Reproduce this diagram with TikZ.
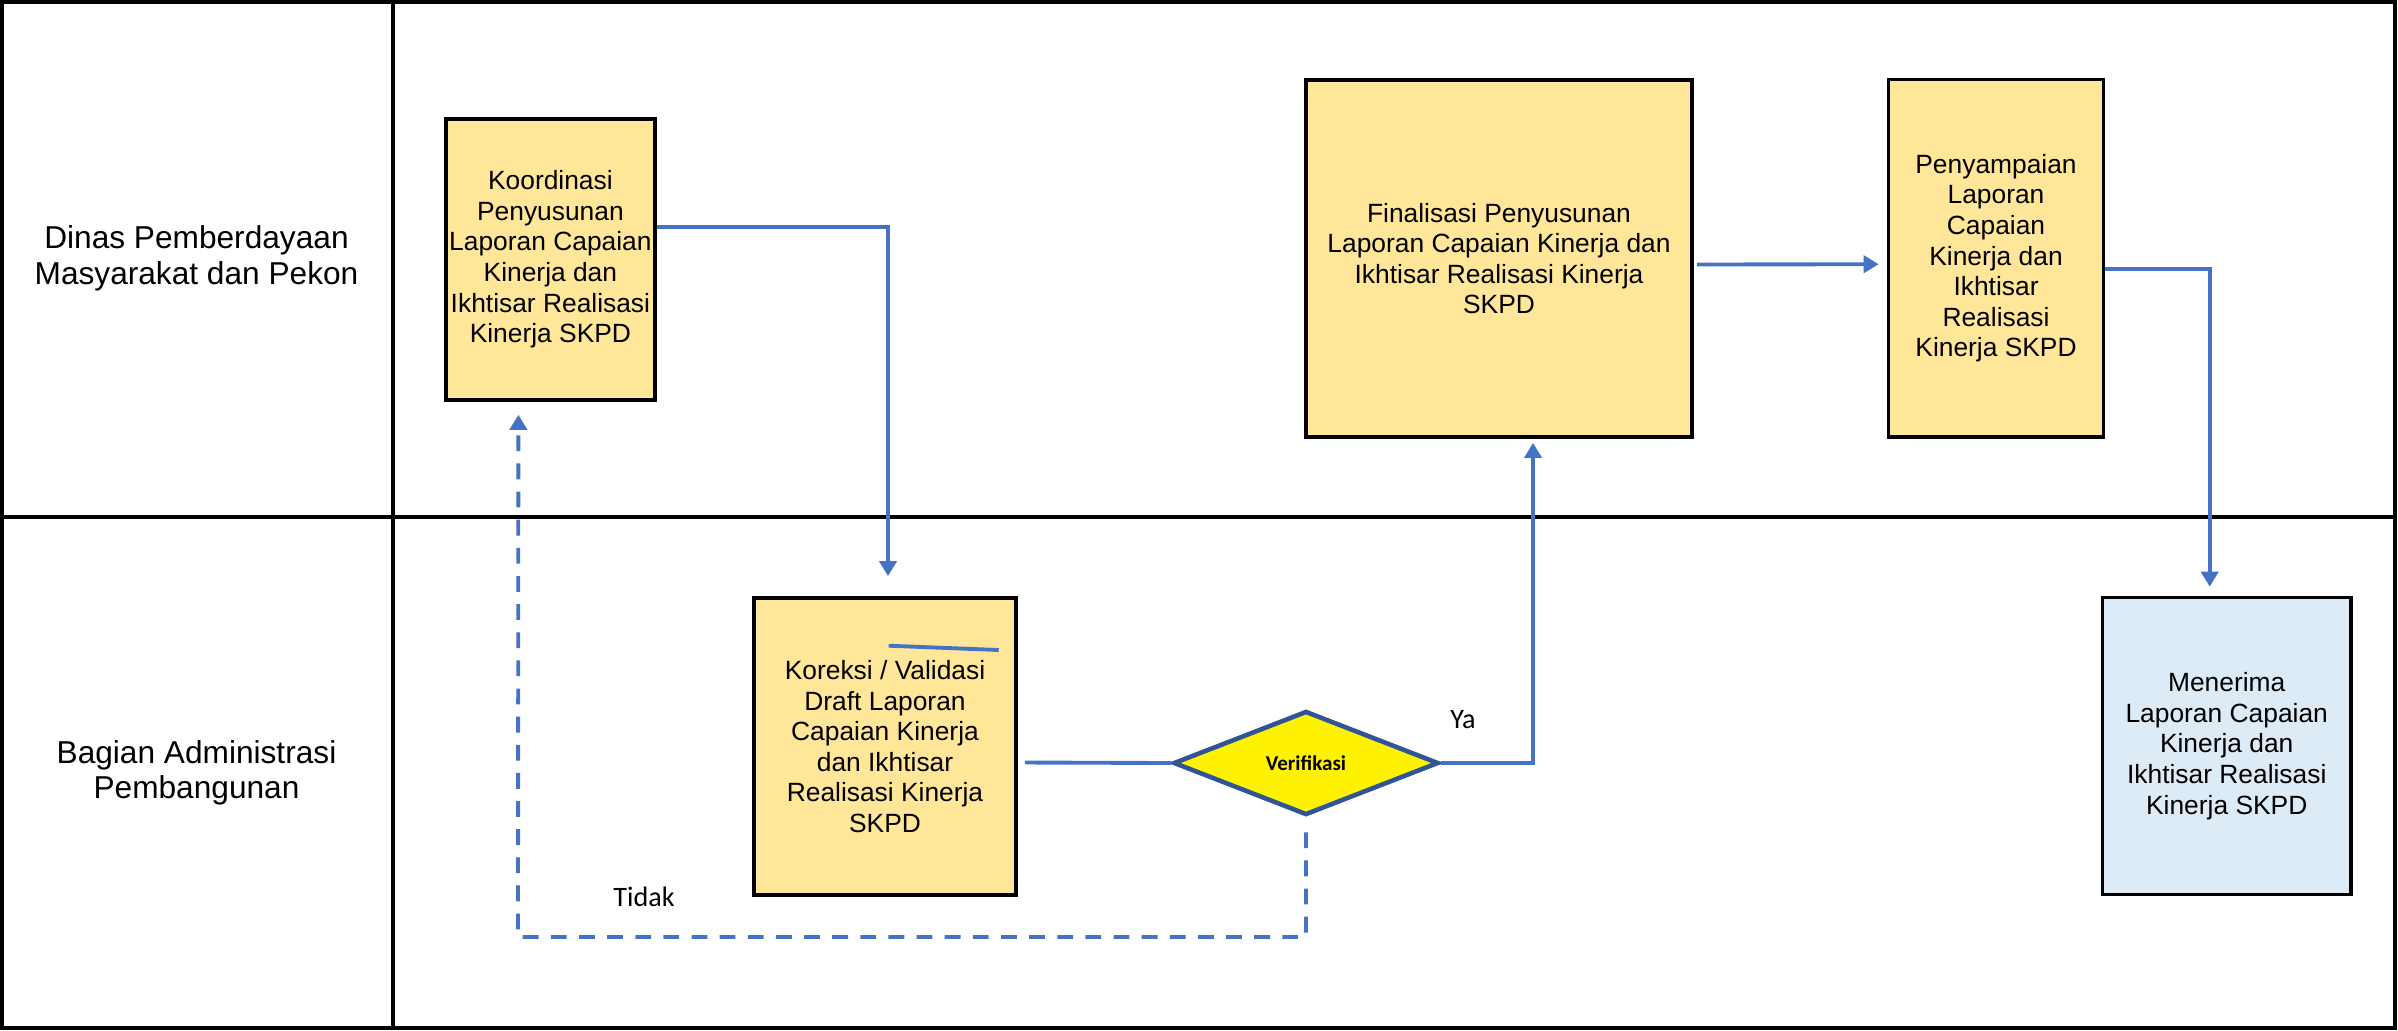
\documentclass[tikz,border=0pt]{standalone}
\usepackage{fontspec}
\setmainfont{Liberation Sans}
\newfontfamily\calibri{Carlito}
\usetikzlibrary{arrows.meta,shapes.geometric}
\definecolor{flowblue}{HTML}{4472C4}
\definecolor{boxgold}{HTML}{FFE699}
\definecolor{boxsky}{HTML}{DDEBF7}
\definecolor{edgenavy}{HTML}{2F5597}
\tikzset{>={Triangle[length=1.5mm,width=1.7mm]},
  lane/.style={line width=1pt},
  lanelabel/.style={align=center, font=\fontsize{9}{10.1}\selectfont},
  proc/.style={draw, line width=1pt, fill=boxgold, align=center, inner sep=0pt,
    font=\fontsize{7.5}{8.7}\selectfont},
  flow/.style={flowblue, line width=1.1pt},
  tidakflow/.style={flow, dash pattern=on 4.5pt off 3.5pt},
  decision/.style={diamond, draw=edgenavy, line width=1.3pt, fill=yellow, inner sep=0pt,
    minimum width=2.65cm, minimum height=1.04cm, font=\calibri\bfseries\fontsize{6}{7}\selectfont},
  flowlabel/.style={font=\calibri\fontsize{8}{9.6}\selectfont}}

\begin{document}
\begin{tikzpicture}[x=0.01cm,y=-0.01cm]
\useasboundingbox (0,0) rectangle (2398,1030);
% swimlanes
\draw[lane] (2,2) rectangle (2395,1028);
\draw[lane] (393,2)--(393,1028);
\draw[lane] (2,517)--(2395,517);
\node[lanelabel] (laneDinas) at (196.5,258.5) {Dinas Pemberdayaan\\Masyarakat dan Pekon};
\node[lanelabel] (laneBagian) at (196.5,773) {Bagian Administrasi\\Pembangunan};

% steps
\node[proc, minimum width=2.09cm, minimum height=2.81cm] (koord) at (550.4,259.4)
  {Koordinasi\\Penyusunan\\Laporan Capaian\\Kinerja dan\\Ikhtisar Realisasi\\Kinerja SKPD};
\node[proc, minimum width=2.62cm, minimum height=2.97cm] (koreksi) at (885,746.5)
  {Koreksi / Validasi\\Draft Laporan\\Capaian Kinerja\\dan Ikhtisar\\Realisasi Kinerja\\SKPD};
\node[decision] (verif) at (1306,763) {Verifikasi};
\node[proc, minimum width=3.86cm, minimum height=3.57cm] (final) at (1499,258.5)
  {Finalisasi Penyusunan\\Laporan Capaian Kinerja dan\\Ikhtisar Realisasi Kinerja\\SKPD};
\node[proc, minimum width=2.15cm, minimum height=3.57cm] (penyamp) at (1996,258.2)
  {Penyampaian\\Laporan\\Capaian\\Kinerja dan\\Ikhtisar\\Realisasi\\Kinerja SKPD};
\node[proc, fill=boxsky, minimum width=2.48cm, minimum height=2.97cm] (menerima) at (2226.7,746)
  {Menerima\\Laporan Capaian\\Kinerja dan\\Ikhtisar Realisasi\\Kinerja SKPD};

% connectors
\draw[flow,->] ([yshift=0.32cm]koord.east) -| ([xshift=0.03cm,yshift=0.2cm]koreksi.north);
\draw[flow] ([xshift=0.07cm,yshift=-0.16cm]koreksi.east) -- (verif.west);
\draw[flow,->] (verif.east) -| ([xshift=0.34cm,yshift=-0.04cm]final.south);
\draw[flow,->] ([xshift=0.03cm,yshift=-0.06cm]final.east) -- ([xshift=-0.08cm,yshift=-0.06cm]penyamp.west);
\draw[flow,->] ([yshift=-0.11cm]penyamp.east) -| ([xshift=-0.17cm,yshift=0.09cm]menerima.north);
\coordinate (tidakturn) at (518,937);
\draw[tidakflow,->] ([yshift=-0.15cm]verif.south) |- (tidakturn) -- ([xshift=-0.32cm,yshift=-0.13cm]koord.south);
\draw[flow] (888.7,645.7) -- (998.7,650);

% labels
\node[flowlabel] (ya) at (1463,720) {Ya};
\node[flowlabel] (tidak) at (644,897) {Tidak};
\end{tikzpicture}
\end{document}
